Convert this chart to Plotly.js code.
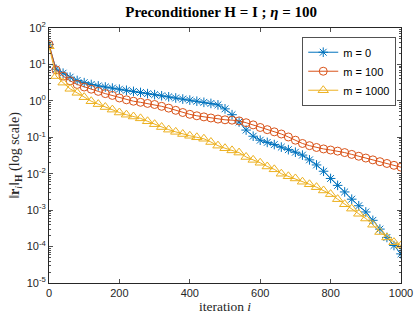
<!DOCTYPE html>
<html>
<head>
<meta charset="utf-8">
<script src="https://cdn.plot.ly/plotly-3.0.1.min.js"></script>
<style>
html,body{margin:0;padding:0;background:#fff;}
#chart{width:415px;height:319px;}
</style>
</head>
<body>
<div id="chart"></div>
<script>
const iterations = [0,20,40,60,80,100,120,140,160,180,200,220,240,260,280,300,320,340,360,380,400,420,440,460,480,500,520,540,560,580,600,620,640,660,680,700,720,740,760,780,800,820,840,860,880,900,920,940,960,980,1000];

const m0 = [35.5,7.41,5.75,4.47,3.63,3.16,2.82,2.57,2.40,2.24,2.09,1.95,1.82,1.70,1.58,1.48,1.38,1.29,1.20,1.12,1.05,0.977,0.912,0.851,0.776,0.603,0.417,0.263,0.158,0.107,0.0832,0.0724,0.0631,0.0537,0.0457,0.0389,0.0324,0.0240,0.0174,0.0117,0.00741,0.00479,0.00316,0.00200,0.00132,0.000891,0.000525,0.000302,0.000178,0.000107,0.0000631];

const m100 = [35.5,7.08,4.79,3.55,2.82,2.40,2.09,1.82,1.58,1.41,1.20,1.07,0.977,0.912,0.851,0.794,0.708,0.631,0.550,0.479,0.427,0.389,0.363,0.339,0.316,0.302,0.295,0.282,0.251,0.219,0.186,0.162,0.141,0.123,0.102,0.0832,0.0676,0.0589,0.0525,0.0479,0.0447,0.0417,0.0380,0.0339,0.0302,0.0269,0.0240,0.0214,0.0191,0.0170,0.0151];

const m1000 = [31.6,4.79,3.16,2.14,1.66,1.26,0.977,0.813,0.676,0.575,0.479,0.417,0.372,0.331,0.275,0.229,0.191,0.162,0.141,0.123,0.110,0.100,0.0912,0.0741,0.0589,0.0501,0.0437,0.0380,0.0288,0.0240,0.0200,0.0158,0.0132,0.0100,0.00851,0.00741,0.00603,0.00513,0.00427,0.00347,0.00275,0.00200,0.00145,0.00110,0.000794,0.000589,0.000398,0.000251,0.000178,0.000132,0.000107];

const seriesNames = ['m = 0','m = 100','m = 1000'];
const xTicks = [0,200,400,600,800,1000];
const yTickVals = [1e-5,1e-4,1e-3,1e-2,1e-1,1,10,100];
const yTickText = ['10<sup>-5</sup>','10<sup>-4</sup>','10<sup>-3</sup>','10<sup>-2</sup>','10<sup>-1</sup>','10<sup>0</sup>','10<sup>1</sup>','10<sup>2</sup>'];

const colors = ['#0072BD','#D95319','#EDB120'];
const symbols = ['asterisk-open','circle-open','triangle-up-open'];
const sizes = [8,8,9];
const allY = [m0, m100, m1000];

// minor tick positions (2..9 within each decade)
const minorVals = [];
for (let e = -5; e < 2; e++) for (let d = 2; d <= 9; d++) minorVals.push(d * Math.pow(10, e));

const traces = allY.map((y, k) => ({
  x: iterations, y: y, name: seriesNames[k], type: 'scatter', mode: 'lines+markers',
  line: {color: colors[k], width: 1},
  marker: {symbol: symbols[k], size: sizes[k], color: colors[k], line: {color: colors[k], width: 1}}
}));

const axisCommon = {
  showline: true, linecolor: '#262626', linewidth: 1, mirror: 'ticks',
  ticks: 'inside', ticklen: 4, tickcolor: '#262626', tickwidth: 0.8,
  showgrid: false, zeroline: false,
  tickfont: {family: 'Liberation Sans, Arial, sans-serif', size: 11, color: '#262626'}
};

const layout = {
  width: 415, height: 319,
  margin: {l: 49, r: 14, t: 28, b: 36},
  paper_bgcolor: '#fff', plot_bgcolor: '#fff',
  showlegend: true,
  title: {
    text: '<b>Preconditioner H = I ; <i>η</i> = 100</b>',
    font: {family: 'Liberation Serif, DejaVu Serif, serif', size: 15, color: '#000'},
    x: 0.533, xanchor: 'center', y: 0.962, yanchor: 'middle'
  },
  xaxis: Object.assign({}, axisCommon, {
    range: [0, 1000], tickvals: xTicks,
    title: {text: 'iteration <i>i</i>', standoff: 1,
      font: {family: 'Liberation Serif, DejaVu Serif, serif', size: 13.5, color: '#262626'}}
  }),
  yaxis: Object.assign({}, axisCommon, {
    type: 'log', range: [-5, 2], tickvals: yTickVals, ticktext: yTickText,
    minor: {ticks: 'inside', ticklen: 2, tickcolor: '#262626', tickvals: minorVals, showgrid: false},
    title: {text: '‖<b>r</b><sub><i>i</i></sub>‖<sub><b>H</b></sub> (log scale)', standoff: 3,
      font: {family: 'Liberation Serif, DejaVu Serif, serif', size: 14, color: '#262626'}}
  }),
  legend: {
    x: 0.72, xanchor: 'left', y: 0.965, yanchor: 'top',
    bgcolor: '#fff', bordercolor: '#262626', borderwidth: 0.8,
    font: {family: 'Liberation Sans, Arial, sans-serif', size: 11, color: '#000'},
    itemwidth: 30, tracegroupgap: 0
  }
};

Plotly.newPlot('chart', traces, layout, {displayModeBar: false, staticPlot: true});
</script>
</body>
</html>
